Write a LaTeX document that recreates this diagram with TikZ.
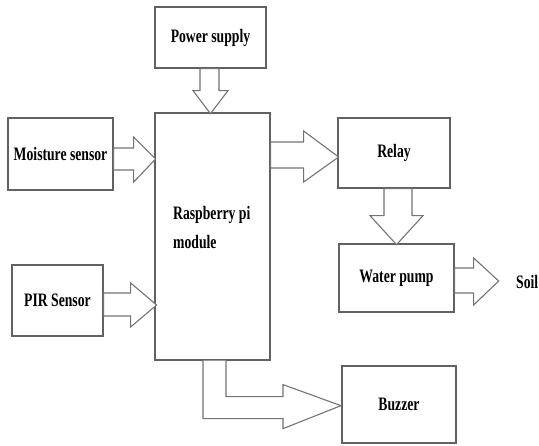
\documentclass[tikz,border=0pt]{standalone}
\usepackage{fontspec}
\newfontfamily\lbl{Liberation Serif}[FakeStretch=0.72]
\begin{document}
\begin{tikzpicture}[x=1pt,y=-1pt,
  box/.style={draw=black!62,line width=1.3pt,fill=white,inner sep=0pt,
    font=\lbl\bfseries\fontsize{19}{22}\selectfont},
  barrow/.style={draw=black!55,line width=1.1pt,fill=white,line join=miter},
  txt/.style={inner sep=0pt,font=\lbl\bfseries\fontsize{19}{29}\selectfont}]
\useasboundingbox (0,0) rectangle (539,446);
% boxes
\node[box,minimum width=111pt,minimum height=61pt] (ps) at (210.5,37.5) {Power supply};
\node[box,minimum width=115pt,minimum height=247pt] (rpi) at (212.5,236.5) {};
\node[box,minimum width=105pt,minimum height=72pt] (ms) at (60.5,154) {Moisture sensor};
\node[box,minimum width=91pt,minimum height=71pt] (pir) at (57.5,300.5) {PIR Sensor};
\node[box,minimum width=112pt,minimum height=70pt] (relay) at (394,153) {Relay};
\node[box,minimum width=115pt,minimum height=68pt] (pump) at (396.5,278) {Water pump};
\node[box,minimum width=114pt,minimum height=77pt] (buzz) at (399,404.5) {Buzzer};
\node[txt,anchor=west,align=left] (rpilabel) at (173,227.5) {Raspberry pi\\module};
\node[txt,anchor=west] (soil) at (516,282) {Soil};
\coordinate (r1) at (rpi.east |- relay.west);
% block arrows
\draw[barrow] ([xshift=-10.5pt]ps.south) -- ++(0,22) -- ++(-7,0) -- ++(17.5,23)
  -- ++(17.5,-23) -- ++(-9,0) -- ([xshift=8.5pt]ps.south) -- cycle;
\draw[barrow] ([yshift=6pt]ms.east) -- ++(20,0) -- ++(0,-11) -- ++(22,22)
  -- ++(-22,23) -- ++(0,-12) -- ([yshift=-16pt]ms.east) -- cycle;
\draw[barrow] ([yshift=7.5pt]pir.east) -- ++(27,0) -- ++(0,-10) -- ++(26,22)
  -- ++(-26,22) -- ++(0,-11) -- ([yshift=-15.5pt]pir.east) -- cycle;
\draw[barrow] ([yshift=11pt]r1) -- ++(33,0) -- ++(0,-11) -- ++(35,26)
  -- ++(-35,25) -- ++(0,-14) -- ([yshift=-15pt]r1) -- cycle;
\draw[barrow] ([xshift=-10pt]relay.south) -- ++(0,27) -- ++(-14,0) -- ++(26.5,29)
  -- ++(26.5,-29) -- ++(-11,0) -- ([xshift=18pt]relay.south) -- cycle;
\draw[barrow] ([yshift=10pt]pump.east) -- ++(19,0) -- ++(0,-10) -- ++(25,23)
  -- ++(-25,24) -- ++(0,-12) -- ([yshift=-15pt]pump.east) -- cycle;
\draw[barrow] ([xshift=-9.5pt]rpi.south) -- ++(0,58) -- ++(80,0) -- ++(0,10)
  -- ++(58,-23) -- ++(-58,-21) -- ++(0,12) -- ++(-57,0)
  -- ([xshift=13.5pt]rpi.south);
\end{tikzpicture}
\end{document}
